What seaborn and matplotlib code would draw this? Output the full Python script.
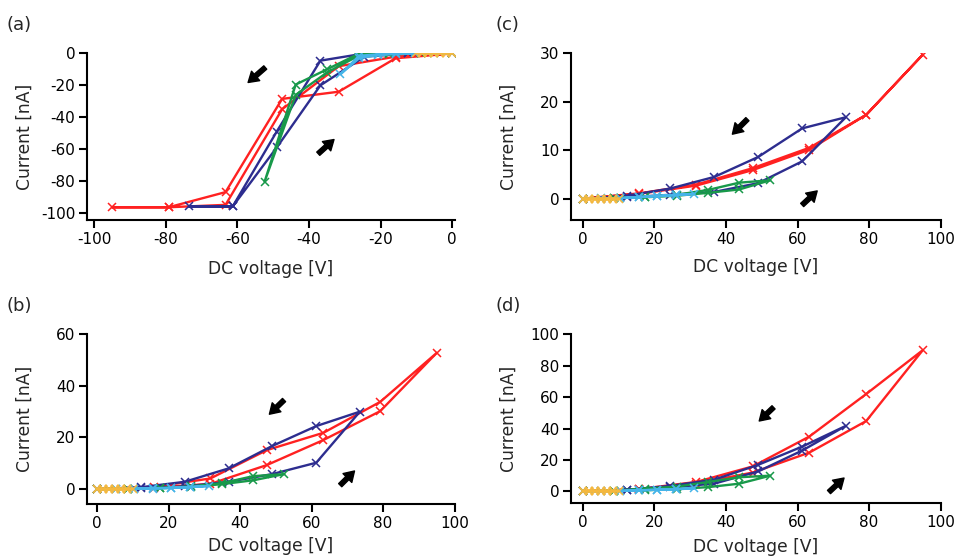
import matplotlib
matplotlib.use("Agg")
import matplotlib.pyplot as plt
import seaborn as sns
import pandas as pd

sns.set_style("ticks")
plt.rcParams['font.family'] = ['DejaVu Sans']

# Sweep voltages (0 -> Vmax -> 0), magnitude in V
v_red = [0, 15.8, 31.7, 47.5, 63.3, 79.2, 95.0, 79.2, 63.3, 47.5, 31.7, 15.8, 0]
v_blue = [0, 12.3, 24.5, 36.8, 49.0, 61.3, 73.5, 61.3, 49.0, 36.8, 24.5, 12.3, 0]
v_green = [0, 8.7, 17.5, 26.2, 35.0, 43.7, 52.4, 43.7, 35.0, 26.2, 17.5, 8.7, 0]
v_lblue = [0, 5.2, 10.4, 15.6, 20.8, 26.0, 31.2, 26.0, 20.8, 15.6, 10.4, 5.2, 0]
v_orange = [0, 1.7, 3.3, 5.0, 6.7, 8.3, 10.0, 8.3, 6.7, 5.0, 3.3, 1.7, 0]

# Panel (a): negative voltage sweeps, current [nA]
a_red = [0, -3, -24, -28.5, -87, -96.5, -96.5, -96.5, -95, -35, -8, -2, 0]
a_blue = [0, 0, -2, -20, -59, -96, -96, -96, -49, -4.5, 0, 0, 0]
a_green = [0, 0, -0.5, -1.5, -12, -26, -80.5, -19.5, -10, -0.3, 0, 0, 0]
a_lblue = [0, 0, 0, -0.3, -1, -3, -13, -1.5, -0.5, 0, 0, 0, 0]
a_orange = [0, 0, 0, 0, 0, 0, 0, 0, 0, 0, 0, 0, 0]

# Panel (b)
b_red = [0, 0.5, 2.0, 9.3, 19.0, 30.2, 52.8, 33.8, 21.8, 15.1, 4.1, 0.8, 0]
b_blue = [0, 0.3, 1.0, 2.8, 5.8, 10.2, 30.0, 24.4, 16.7, 8.0, 2.8, 0.7, 0]
b_green = [0, 0.1, 0.3, 0.8, 1.9, 3.4, 5.8, 5.0, 2.3, 1.0, 0.4, 0.1, 0]
b_lblue = [0, 0, 0.1, 0.2, 0.4, 0.7, 1.2, 0.8, 0.5, 0.3, 0.1, 0, 0]
b_orange = [0, 0, 0, 0, 0, 0, 0, 0, 0, 0, 0, 0, 0]

# Panel (c)
c_red = [0, 1.0, 2.7, 5.9, 10.1, 17.3, 29.7, 17.3, 10.5, 6.3, 2.9, 1.1, 0]
c_blue = [0, 0.3, 0.8, 1.4, 3.2, 7.7, 16.8, 14.5, 8.6, 4.5, 2.1, 0.6, 0]
c_green = [0, 0.1, 0.3, 0.6, 1.2, 1.9, 3.8, 3.3, 1.8, 0.8, 0.4, 0.1, 0]
c_lblue = [0, 0, 0.1, 0.3, 0.5, 0.7, 1.0, 0.8, 0.6, 0.35, 0.15, 0.05, 0]
c_orange = [0, 0, 0, 0, 0, 0, 0, 0, 0, 0, 0, 0, 0]

# Panel (d)
d_red = [0, 1.2, 5.0, 12.0, 24.7, 44.8, 89.9, 62.0, 34.9, 15.9, 6.0, 1.5, 0]
d_blue = [0, 0.8, 2.5, 5.0, 12.7, 26.0, 41.7, 28.5, 16.9, 7.5, 3.5, 1.0, 0]
d_green = [0, 0.4, 0.7, 1.5, 2.7, 4.9, 10.0, 9.0, 6.0, 3.0, 1.8, 0.5, 0]
d_lblue = [0, 0.1, 0.3, 0.6, 1.0, 1.3, 2.0, 1.5, 1.1, 0.7, 0.3, 0.1, 0]
d_orange = [0, 0, 0, 0, 0, 0, 0, 0, 0, 0, 0, 0, 0]

colors = ["#ff2121", "#2d2d8f", "#18994a", "#45b4e8", "#f5b83e"]
volts = [v_red, v_blue, v_green, v_lblue, v_orange]

panels = {
    "a": dict(cur=[a_red, a_blue, a_green, a_lblue, a_orange], sign=-1,
              pos=[87, 53, 455, 220], xlim=(-102, 0.8), ylim=(-104.5, 0.3),
              xticks=[-100, -80, -60, -40, -20, 0], yticks=[0, -20, -40, -60, -80, -100],
              xlab=40, arrows=[((-52.2, -8.8), (-57.0, -18.2)), ((-37.4, -62.9), (-33.0, -54.0))]),
    "c": dict(cur=[c_red, c_blue, c_green, c_lblue, c_orange], sign=1,
              pos=[571, 53, 941, 220], xlim=(-3.3, 100.1), ylim=(-4.4, 30.05),
              xticks=[0, 20, 40, 60, 80, 100], yticks=[0, 10, 20, 30],
              xlab=38, arrows=[((46.0, 16.4), (41.8, 13.3)), ((61.3, -1.3), (65.5, 1.6))]),
    "b": dict(cur=[b_red, b_blue, b_green, b_lblue, b_orange], sign=1,
              pos=[87, 334, 455, 504], xlim=(-2.8, 100.1), ylim=(-5.8, 60.1),
              xticks=[0, 20, 40, 60, 80, 100], yticks=[0, 20, 40, 60],
              xlab=33, arrows=[((52.3, 34.5), (48.2, 29.0)), ((68.0, 1.5), (72.0, 7.0))]),
    "d": dict(cur=[d_red, d_blue, d_green, d_lblue, d_orange], sign=1,
              pos=[571, 334, 941, 503], xlim=(-3.3, 100.1), ylim=(-7.4, 100.2),
              xticks=[0, 20, 40, 60, 80, 100], yticks=[0, 20, 40, 60, 80, 100],
              xlab=35, arrows=[((53.3, 53.5), (49.3, 44.8)), ((68.8, -0.4), (73.0, 8.5))]),
}

W, H = 958, 560
fig = plt.figure(figsize=(W / 100, H / 100), dpi=100)

for key, p in panels.items():
    l, t, r, b = p["pos"]
    ax = fig.add_axes([l / W, 1 - b / H, (r - l) / W, (b - t) / H])
    for v, cur, col in zip(volts, p["cur"], colors):
        df = pd.DataFrame({"V": [p["sign"] * x for x in v], "I": cur})
        sns.lineplot(data=df, x="V", y="I", sort=False, estimator=None, ax=ax,
                     color=col, lw=1.7, marker="x", markersize=5.5,
                     markeredgewidth=1.1, markeredgecolor=col)
    ax.set_xlim(*p["xlim"])
    ax.set_ylim(*p["ylim"])
    ax.set_xticks(p["xticks"])
    ax.set_yticks(p["yticks"])
    ax.set_xticklabels([str(x) for x in p["xticks"]])
    ax.set_yticklabels([str(y) for y in p["yticks"]])
    for s in ["top", "right"]:
        ax.spines[s].set_visible(False)
    for s in ["left", "bottom"]:
        ax.spines[s].set_linewidth(1.5)
        ax.spines[s].set_color("black")
    ax.tick_params(axis="both", direction="out", length=5.5, width=1.5,
                   labelsize=11, pad=3, color="black", labelcolor="black")
    ax.set_xlabel("DC voltage [V]", fontsize=12.3)
    ax.set_ylabel("Current [nA]", fontsize=12.3)
    hpx = b - t
    wpx = r - l
    ax.xaxis.set_label_coords(0.5, -p["xlab"] / hpx)
    ax.yaxis.set_label_coords(-53 / wpx, 0.5)
    for tail, head in p["arrows"]:
        ax.annotate("", xy=head, xytext=tail,
                    arrowprops=dict(arrowstyle="simple,head_width=0.45,head_length=0.36,tail_width=0.16",
                                    color="black", shrinkA=0, shrinkB=0, mutation_scale=20))

label_pos = {"a": (7, 25), "c": (496, 25), "b": (7, 306), "d": (496, 306)}
for k, (x, y) in label_pos.items():
    fig.text(x / W, 1 - y / H, f"({k})", fontsize=13, va="center", ha="left")

fig.savefig("out.png", dpi=100)
